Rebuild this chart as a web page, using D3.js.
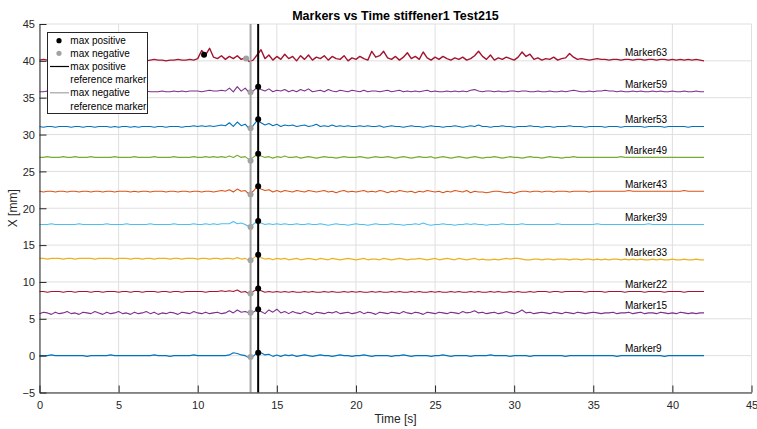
<!DOCTYPE html>
<html>
<head>
<meta charset="utf-8">
<script src="https://cdn.jsdelivr.net/npm/d3@7/dist/d3.min.js"></script>
<style>
  html, body { margin: 0; padding: 0; background: #fff; }
  svg { display: block; font-family: "Liberation Sans", Arial, Helvetica, sans-serif; }
</style>
</head>
<body>
<svg id="chart" width="757" height="429"></svg>
<script>
// ---------------- DATA ----------------
const titleText = "Markers vs Time stiffener1 Test215";
const xLabel = "Time [s]";
const yLabel = "X [mm]";
const xTicks = [0, 5, 10, 15, 20, 25, 30, 35, 40, 45];
const yTicks = [-5, 0, 5, 10, 15, 20, 25, 30, 35, 40, 45];

const markerNames = ["Marker9", "Marker15", "Marker22", "Marker33", "Marker39", "Marker43", "Marker49", "Marker53", "Marker59", "Marker63"];
const markerColors = ["#0072BD", "#7E2F8E", "#A2142F", "#EDB120", "#4DBEEE", "#D95319", "#77AC30", "#0072BD", "#7E2F8E", "#A2142F"];

const time = [
  0,0.25,0.5,0.75,1,1.25,1.5,1.75,
  2,2.25,2.5,2.75,3,3.25,3.5,3.75,
  4,4.25,4.5,4.75,5,5.25,5.5,5.75,
  6,6.25,6.5,6.75,7,7.25,7.5,7.75,
  8,8.25,8.5,8.75,9,9.25,9.5,9.75,
  10,10.25,10.5,10.75,11,11.25,11.5,11.75,
  12,12.25,12.5,12.75,13,13.25,13.5,13.75,
  14,14.25,14.5,14.75,15,15.25,15.5,15.75,
  16,16.25,16.5,16.75,17,17.25,17.5,17.75,
  18,18.25,18.5,18.75,19,19.25,19.5,19.75,
  20,20.25,20.5,20.75,21,21.25,21.5,21.75,
  22,22.25,22.5,22.75,23,23.25,23.5,23.75,
  24,24.25,24.5,24.75,25,25.25,25.5,25.75,
  26,26.25,26.5,26.75,27,27.25,27.5,27.75,
  28,28.25,28.5,28.75,29,29.25,29.5,29.75,
  30,30.25,30.5,30.75,31,31.25,31.5,31.75,
  32,32.25,32.5,32.75,33,33.25,33.5,33.75,
  34,34.25,34.5,34.75,35,35.25,35.5,35.75,
  36,36.25,36.5,36.75,37,37.25,37.5,37.75,
  38,38.25,38.5,38.75,39,39.25,39.5,39.75,
  40,40.25,40.5,40.75,41,41.25,41.5,41.75,
  42
];

const marker9 = [
  0.0,0.0,0.0,0.1,0.0,0.0,0.0,0.0,
  0.0,0.0,0.0,0.0,-0.1,0.0,0.0,0.0,
  0.0,0.0,0.1,0.0,0.0,0.0,0.0,0.0,
  0.0,0.0,0.0,0.0,0.0,0.1,0.0,0.0,
  0.0,-0.1,0.0,0.0,0.0,0.0,0.0,0.1,
  0.0,0.0,0.0,0.0,0.0,0.0,0.0,0.0,
  0.1,0.4,0.3,0.1,0.0,-0.3,-0.1,0.4,
  0.4,0.1,0.2,-0.1,0.1,-0.1,0.1,0.0,
  0.1,-0.1,0.0,0.1,0.0,-0.1,0.0,0.1,
  0.0,0.0,-0.1,0.0,0.1,0.0,0.0,-0.1,
  0.0,0.0,0.1,0.0,-0.1,0.0,0.0,0.0,
  0.0,-0.1,0.0,0.0,0.1,0.0,-0.1,0.0,
  0.0,0.0,0.0,-0.1,0.0,0.0,0.1,0.0,
  -0.1,0.0,0.0,0.0,0.0,-0.1,0.0,0.0,
  0.0,0.0,0.1,0.0,0.0,0.0,0.0,-0.1,
  0.0,0.0,0.0,0.0,-0.1,0.0,0.0,0.0,
  0.0,0.0,0.0,0.0,0.0,-0.1,0.0,0.0,
  0.0,0.0,0.0,0.0,0.0,0.0,0.0,0.0,
  0.0,0.0,-0.1,0.0,0.0,0.0,0.0,0.0,
  0.0,0.0,0.0,0.0,0.0,0.0,-0.1,0.0,
  0.0,0.0,0.0,0.0,0.0,0.0,0.0,0.0,
  0.0
];

const marker15 = [
  5.7,5.9,5.8,5.6,5.9,5.7,5.8,6.0,
  5.7,5.8,5.6,5.9,5.8,5.7,6.0,5.8,
  5.6,5.9,5.7,5.8,6.0,5.7,5.8,5.6,
  5.9,5.7,5.8,6.0,5.7,5.9,5.6,5.8,
  5.7,5.9,5.8,5.6,5.9,5.8,5.7,6.0,
  5.8,5.7,5.9,5.7,5.8,5.9,5.7,5.8,
  6.1,5.8,6.2,5.9,6.0,5.8,5.9,6.2,
  6.0,5.7,6.2,5.9,6.3,5.8,6.0,5.7,
  6.0,5.8,5.7,6.0,5.8,5.6,5.9,5.8,
  5.7,5.9,5.8,6.0,5.7,5.8,5.9,5.7,
  5.8,6.0,5.7,5.9,5.8,5.6,5.9,5.8,
  5.7,5.9,5.8,5.7,6.0,5.8,5.7,5.9,
  5.8,5.6,5.9,5.8,5.7,5.9,5.8,5.7,
  5.9,5.8,5.7,6.0,5.8,5.9,6.1,5.8,
  5.9,5.7,5.8,5.9,5.7,5.8,6.0,5.8,
  5.7,5.9,6.2,5.8,5.9,5.7,5.8,5.9,
  5.8,5.7,5.9,5.8,5.7,5.9,5.8,5.7,
  5.9,5.8,5.7,5.8,5.9,5.8,5.7,5.8,
  5.8,5.9,5.7,5.8,5.8,5.9,5.7,5.8,
  5.9,5.7,5.8,5.8,5.7,5.9,5.8,5.7,
  5.8,5.7,5.9,5.8,5.7,5.8,5.7,5.8,
  5.8
];

const marker22 = [
  8.7,8.7,8.6,8.7,8.7,8.7,8.6,8.7,
  8.7,8.6,8.7,8.7,8.7,8.6,8.7,8.7,
  8.6,8.7,8.7,8.7,8.6,8.7,8.7,8.6,
  8.7,8.7,8.6,8.7,8.7,8.7,8.6,8.7,
  8.7,8.6,8.7,8.7,8.6,8.7,8.7,8.7,
  8.7,8.7,8.6,8.7,8.7,8.7,8.8,8.7,
  8.8,8.7,8.9,8.6,8.7,8.4,8.7,9.0,
  8.8,8.6,8.7,8.6,8.7,8.6,8.7,8.6,
  8.7,8.6,8.6,8.7,8.6,8.7,8.6,8.6,
  8.7,8.6,8.7,8.6,8.6,8.7,8.6,8.7,
  8.6,8.7,8.6,8.6,8.7,8.6,8.7,8.6,
  8.6,8.7,8.6,8.7,8.6,8.6,8.7,8.6,
  8.7,8.6,8.6,8.7,8.6,8.7,8.6,8.6,
  8.7,8.6,8.7,8.6,8.6,8.7,8.6,8.7,
  8.6,8.6,8.7,8.6,8.7,8.6,8.6,8.7,
  8.6,8.7,8.6,8.6,8.7,8.6,8.7,8.7,
  8.7,8.6,8.7,8.7,8.6,8.7,8.7,8.7,
  8.7,8.7,8.6,8.7,8.7,8.7,8.7,8.6,
  8.7,8.7,8.7,8.7,8.6,8.7,8.7,8.7,
  8.7,8.6,8.7,8.7,8.7,8.7,8.6,8.7,
  8.7,8.7,8.7,8.6,8.7,8.7,8.7,8.7,
  8.7
];

const marker33 = [
  13.2,13.2,13.1,13.2,13.2,13.2,13.1,13.2,
  13.2,13.1,13.2,13.2,13.2,13.2,13.1,13.2,
  13.2,13.2,13.2,13.1,13.2,13.2,13.2,13.1,
  13.2,13.2,13.1,13.2,13.2,13.1,13.2,13.2,
  13.2,13.1,13.2,13.2,13.1,13.2,13.2,13.2,
  13.1,13.2,13.2,13.1,13.2,13.2,13.1,13.2,
  13.2,13.1,13.3,13.1,13.2,12.9,13.2,13.6,
  13.3,13.1,13.2,13.0,13.2,13.1,13.2,13.0,
  13.1,13.2,13.0,13.1,13.2,13.1,13.0,13.2,
  13.1,13.0,13.2,13.1,13.0,13.1,13.2,13.1,
  13.0,13.1,13.2,13.0,13.1,13.1,13.0,13.2,
  13.1,13.0,13.1,13.2,13.1,13.0,13.1,13.1,
  13.2,13.1,13.0,13.1,13.2,13.0,13.1,13.2,
  13.1,13.0,13.2,13.1,13.0,13.1,13.2,13.0,
  13.1,13.0,13.0,13.1,13.0,13.1,13.2,13.1,
  13.2,13.2,13.1,13.0,13.0,13.1,13.1,13.0,
  13.1,13.1,13.0,13.1,13.1,13.1,13.0,13.1,
  13.1,13.0,13.1,13.1,13.0,13.1,13.0,13.1,
  13.0,13.1,13.1,13.0,13.1,13.0,13.1,13.0,
  13.1,13.0,13.0,13.1,13.0,13.1,13.0,13.0,
  13.1,13.0,13.0,13.1,13.0,13.0,13.1,13.0,
  13.0
];

const marker39 = [
  17.8,17.8,17.8,17.9,17.8,17.8,17.8,17.8,
  17.8,17.8,17.9,17.8,17.8,17.8,17.8,17.8,
  17.8,17.9,17.8,17.8,17.8,17.8,17.9,17.8,
  17.8,17.8,17.8,17.8,17.9,17.8,17.8,17.8,
  17.8,17.8,17.9,17.8,17.8,17.8,17.8,17.9,
  17.8,17.8,17.9,17.8,17.9,17.8,17.9,17.9,
  17.9,18.2,17.9,18.0,17.8,17.5,17.8,18.2,
  18.0,17.8,17.9,17.8,17.9,17.8,17.9,17.8,
  17.8,17.9,17.8,17.8,17.9,17.8,17.8,17.9,
  17.8,17.7,17.8,17.9,17.8,17.8,17.7,17.8,
  17.9,17.8,17.8,17.7,17.8,17.9,17.8,17.8,
  17.8,17.9,17.8,17.8,17.7,17.8,17.8,17.9,
  17.8,18.0,17.8,17.7,17.8,17.8,17.9,17.8,
  17.8,17.7,17.8,17.8,17.9,17.8,17.9,17.8,
  17.8,17.7,17.8,17.8,17.8,17.9,17.8,17.8,
  17.8,17.8,17.9,17.8,17.8,17.8,17.8,17.8,
  17.8,17.8,17.8,17.9,17.8,17.8,17.8,17.8,
  17.8,17.8,17.8,17.8,17.8,17.9,17.8,17.8,
  17.8,17.8,17.8,17.8,17.8,17.8,17.8,17.8,
  17.8,17.8,17.9,17.8,17.8,17.8,17.8,17.8,
  17.8,17.8,17.8,17.8,17.8,17.8,17.8,17.8,
  17.8
];

const marker43 = [
  22.3,22.2,22.3,22.3,22.2,22.3,22.3,22.2,
  22.3,22.3,22.2,22.3,22.3,22.2,22.3,22.3,
  22.2,22.3,22.3,22.2,22.3,22.3,22.3,22.2,
  22.3,22.2,22.3,22.3,22.2,22.3,22.3,22.3,
  22.2,22.3,22.3,22.2,22.3,22.3,22.2,22.3,
  22.3,22.2,22.3,22.3,22.2,22.3,22.4,22.3,
  22.5,22.2,22.6,22.3,22.4,21.9,22.3,22.9,
  22.6,22.4,22.5,22.2,22.4,22.2,22.4,22.3,
  22.2,22.4,22.3,22.2,22.4,22.3,22.2,22.3,
  22.4,22.2,22.3,22.1,22.3,22.4,22.2,22.3,
  22.2,22.3,22.4,22.2,22.3,22.2,22.4,22.3,
  22.1,22.3,22.2,22.4,22.3,22.2,22.3,22.1,
  22.3,22.2,22.4,22.3,22.2,22.3,22.1,22.3,
  22.2,22.4,22.3,22.2,22.4,22.1,22.3,22.2,
  22.2,22.1,22.2,22.3,22.3,22.2,22.1,22.2,
  22.0,22.2,22.3,22.3,22.2,22.3,22.3,22.2,
  22.3,22.3,22.2,22.3,22.3,22.3,22.2,22.3,
  22.3,22.3,22.3,22.2,22.3,22.3,22.3,22.3,
  22.3,22.3,22.3,22.3,22.3,22.4,22.3,22.3,
  22.3,22.3,22.3,22.3,22.3,22.3,22.3,22.3,
  22.3,22.3,22.3,22.4,22.3,22.3,22.3,22.3,
  22.3
];

const marker49 = [
  26.9,26.9,27.0,26.9,26.9,26.9,27.0,26.9,
  26.9,27.0,26.9,26.9,26.9,27.0,26.9,26.9,
  26.9,26.9,26.9,27.0,26.9,26.9,26.9,26.9,
  27.0,26.9,26.9,26.9,26.9,27.0,26.9,26.9,
  26.9,26.9,27.0,26.9,26.9,26.9,26.9,27.0,
  26.9,26.9,27.0,26.9,27.0,26.9,27.0,26.9,
  27.1,26.9,27.2,26.9,27.0,26.6,26.9,27.3,
  27.1,26.9,27.0,26.8,27.0,26.9,27.1,26.9,
  26.9,27.0,26.8,26.9,27.0,26.9,26.8,26.9,
  27.0,26.9,26.9,26.8,26.9,27.0,26.9,26.9,
  26.9,27.0,26.9,26.8,26.9,27.0,26.9,26.9,
  27.0,26.9,26.8,26.9,27.0,26.9,26.8,26.9,
  27.0,26.9,26.9,27.0,26.8,26.9,27.0,26.9,
  26.8,26.9,27.0,26.9,26.8,26.9,27.0,26.9,
  26.8,26.9,26.9,27.0,26.9,26.8,26.9,27.0,
  26.9,26.9,26.8,26.9,27.0,26.9,26.9,26.8,
  26.9,27.0,26.9,26.9,26.8,26.9,26.9,27.0,
  26.9,26.9,26.9,26.9,26.9,26.9,26.9,26.9,
  26.9,26.9,26.9,27.0,26.9,26.9,26.9,26.9,
  26.9,26.9,26.9,26.9,26.9,26.9,26.9,26.9,
  26.9,26.9,26.9,26.9,26.9,26.9,26.9,26.9,
  26.9
];

const marker53 = [
  31.1,31.0,31.1,31.1,31.0,31.1,31.1,31.1,
  31.0,31.1,31.1,31.0,31.1,31.1,31.0,31.1,
  31.1,31.1,31.0,31.1,31.0,31.1,31.1,31.0,
  31.1,31.0,31.1,31.1,31.1,31.0,31.1,31.1,
  31.0,31.1,31.1,31.1,31.0,31.1,31.1,31.2,
  31.1,31.2,31.1,31.2,31.1,31.2,31.3,31.2,
  31.6,31.1,31.7,31.2,31.4,30.8,31.2,31.9,
  31.6,31.3,31.5,31.2,31.4,31.1,31.3,31.2,
  31.3,31.1,31.2,31.3,31.1,31.2,31.4,31.1,
  31.2,31.1,31.3,31.1,31.2,31.1,31.2,31.1,
  31.1,31.2,31.1,31.2,31.1,31.1,31.2,31.0,
  31.1,31.2,31.1,31.1,31.0,31.1,31.2,31.1,
  31.1,31.0,31.1,31.2,31.1,31.1,31.0,31.1,
  31.1,31.2,31.1,31.0,31.1,31.2,31.1,31.3,
  31.1,31.1,31.0,31.1,31.1,31.2,31.1,31.1,
  31.0,31.1,31.1,31.1,31.2,31.1,31.1,31.0,
  31.1,31.1,31.0,31.1,31.1,31.1,31.2,31.1,
  31.1,31.1,31.0,31.1,31.1,31.1,31.1,31.0,
  31.1,31.1,31.1,31.0,31.1,31.1,31.1,31.1,
  31.1,31.0,31.1,31.1,31.1,31.1,31.0,31.1,
  31.1,31.1,31.1,31.1,31.0,31.1,31.1,31.1,
  31.1
];

const marker59 = [
  35.8,35.8,35.9,35.8,35.8,35.8,35.9,35.8,
  35.8,35.8,35.8,35.9,35.8,35.8,35.8,35.8,
  35.8,35.9,35.8,35.8,35.8,35.8,35.9,35.8,
  35.8,35.8,35.8,35.9,35.8,35.8,35.8,35.9,
  35.8,35.8,35.9,35.8,35.9,35.8,35.9,35.9,
  35.9,35.8,35.9,36.0,35.9,35.9,36.0,35.9,
  36.3,35.8,36.5,35.9,36.3,35.7,35.9,36.4,
  36.1,35.9,36.2,35.8,36.0,35.9,36.1,35.8,
  36.0,35.8,36.1,35.9,36.2,35.8,35.9,36.0,
  35.8,36.1,35.9,35.8,36.0,35.9,35.8,36.0,
  35.9,35.8,36.0,35.8,35.9,35.9,35.8,35.9,
  36.0,35.8,35.9,36.0,35.8,35.9,35.8,35.9,
  35.8,35.9,36.0,35.8,35.9,35.8,35.8,35.9,
  35.8,35.9,35.8,35.9,35.8,36.0,36.1,35.9,
  35.8,35.9,35.9,35.8,35.9,35.8,35.8,35.9,
  35.9,35.8,35.9,35.9,35.8,35.8,35.9,35.8,
  35.8,35.9,35.8,35.8,35.9,35.8,35.9,36.0,
  35.9,35.8,35.8,35.9,35.8,35.9,35.9,36.0,
  35.9,35.9,35.8,35.9,35.8,35.8,35.9,35.8,
  35.9,35.8,35.8,35.9,35.8,35.9,35.8,35.8,
  35.9,35.8,35.8,35.9,35.8,35.8,35.9,35.8,
  35.8
];

const marker63 = [
  40.1,40.2,40.1,40.2,40.2,40.1,40.2,40.1,
  40.1,40.2,40.2,40.1,40.2,40.2,40.1,40.1,
  40.2,40.1,40.0,40.1,40.1,40.0,40.1,40.1,
  40.0,40.1,40.1,40.0,40.1,40.2,40.1,40.1,
  40.0,40.1,40.1,40.2,40.1,40.1,40.2,40.1,
  40.3,41.4,40.8,41.7,40.5,40.3,40.7,40.2,
  40.6,40.3,40.7,40.2,40.4,39.9,40.1,40.8,
  41.5,40.3,40.8,40.1,40.6,40.2,40.9,40.3,
  40.6,40.0,40.7,40.2,40.8,40.1,40.5,40.3,
  40.7,40.1,40.6,40.3,40.2,40.7,40.0,40.4,
  40.2,40.6,40.3,40.1,41.3,40.5,40.7,41.3,
  40.4,40.2,40.6,40.1,40.5,41.1,40.3,40.6,
  40.2,41.2,40.4,40.1,40.5,40.2,40.6,40.3,
  40.1,40.4,40.2,40.5,40.1,40.3,40.7,41.3,
  40.6,40.2,40.8,40.1,40.4,40.2,40.5,40.3,
  40.1,40.5,41.2,40.6,40.9,40.2,40.4,40.1,
  40.3,40.2,40.5,40.1,40.3,40.4,41.0,40.5,
  40.2,40.3,40.2,40.1,40.2,40.3,40.2,40.2,
  40.1,40.2,40.2,40.1,40.2,40.2,40.1,40.2,
  40.2,40.1,40.2,40.2,40.1,40.2,40.2,40.1,
  40.2,40.1,40.2,40.1,40.2,40.1,40.2,40.1,
  40.0
];

const markerValues = [marker9, marker15, marker22, marker33, marker39, marker43, marker49, marker53, marker59, marker63];

// max positive / max negative points per marker
const posTime = [13.82, 13.82, 13.82, 13.82, 13.82, 13.82, 13.82, 13.82, 13.82, 10.4];
const posValue = [0.38, 6.31, 9.12, 13.68, 18.26, 22.97, 27.39, 32.06, 36.49, 40.83];
const negTime = [13.34, 13.34, 13.34, 13.34, 13.34, 13.34, 13.34, 13.34, 13.34, 13.06];
const negValue = [-0.17, 5.81, 8.44, 12.96, 17.44, 21.88, 26.44, 30.84, 35.73, 40.32];

// reference marker times
const refPositiveTime = 13.82;
const refNegativeTime = 13.34;

// label anchor time
const labelTime = 37;

const legendLabels = ["max positive", "max negative", "max positive", "reference marker", "max negative", "reference marker"];

// ---------------- DRAW ----------------
const svg = d3.select("#chart");
const font = '"Liberation Sans", Arial, Helvetica, sans-serif';
const axisColor = "#262626";

const x = d3.scaleLinear().domain([0, 45]).range([39.5, 751.5]);
const y = d3.scaleLinear().domain([-5, 45]).range([392.5, 24]);

// grid
const grid = svg.append("g");
grid.selectAll(".gx").data(xTicks).enter().append("line")
  .attr("x1", d => x(d)).attr("x2", d => x(d))
  .attr("y1", y(-5)).attr("y2", y(45))
  .attr("stroke", "#dfdfdf").attr("stroke-width", 1);
grid.selectAll(".gy").data(yTicks).enter().append("line")
  .attr("x1", x(0)).attr("x2", x(45))
  .attr("y1", d => y(d)).attr("y2", d => y(d))
  .attr("stroke", "#dfdfdf").attr("stroke-width", 1);

// series
const line = d3.line().x(d => x(d[0])).y(d => y(d[1]));
const seriesG = svg.append("g");
markerValues.forEach((vals, i) => {
  const pts = time.map((t, j) => [t, vals[j]]);
  seriesG.append("path")
    .attr("d", line(pts))
    .attr("fill", "none")
    .attr("stroke", markerColors[i])
    .attr("stroke-width", i === 9 ? 1.4 : 1.1)
    .attr("stroke-linejoin", "round");
});

// marker labels
markerValues.forEach((vals, i) => {
  const tail = vals.slice(vals.length - 24);
  const lv = d3.mean(tail);
  svg.append("text")
    .attr("x", x(labelTime))
    .attr("y", y(lv) - 3.5)
    .attr("font-family", font)
    .attr("font-size", 10)
    .attr("fill", "#000")
    .text(markerNames[i]);
});

// reference lines
svg.append("line")
  .attr("x1", x(refNegativeTime)).attr("x2", x(refNegativeTime))
  .attr("y1", y(-5)).attr("y2", y(45))
  .attr("stroke", "#a3a3a3").attr("stroke-width", 2);
svg.append("line")
  .attr("x1", x(refPositiveTime)).attr("x2", x(refPositiveTime))
  .attr("y1", y(-5)).attr("y2", y(45))
  .attr("stroke", "#000").attr("stroke-width", 2);

// dots
svg.append("g").selectAll("circle.neg").data(negValue).enter().append("circle")
  .attr("cx", (d, i) => x(negTime[i])).attr("cy", d => y(d))
  .attr("r", 3).attr("fill", "#a3a3a3");
svg.append("g").selectAll("circle.pos").data(posValue).enter().append("circle")
  .attr("cx", (d, i) => x(posTime[i])).attr("cy", d => y(d))
  .attr("r", 3).attr("fill", "#000");

// axes
const xAxis = d3.axisBottom(x).tickValues(xTicks).tickSize(-7).tickSizeOuter(0).tickFormat(d3.format("d"));
const gx = svg.append("g").attr("transform", `translate(0,${y(-5)})`).call(xAxis);
gx.select(".domain").attr("stroke", axisColor).attr("stroke-width", 1);
gx.selectAll(".tick line").attr("stroke", axisColor);
gx.selectAll(".tick text").attr("y", 16.5).attr("dy", null)
  .attr("font-family", font).attr("font-size", 11).attr("fill", axisColor);

const yAxis = d3.axisLeft(y).tickValues(yTicks).tickSize(-7).tickSizeOuter(0).tickFormat(d3.format("d"));
const gy = svg.append("g").attr("transform", `translate(${x(0)},0)`).call(yAxis);
gy.select(".domain").attr("stroke", axisColor).attr("stroke-width", 1);
gy.selectAll(".tick line").attr("stroke", axisColor);
gy.selectAll(".tick text").attr("x", -4.5).attr("dy", "0.35em")
  .attr("font-family", font).attr("font-size", 11).attr("fill", axisColor);

// axis labels
svg.append("text")
  .attr("x", (x(0) + x(45)) / 2).attr("y", 422.5)
  .attr("text-anchor", "middle")
  .attr("font-family", font).attr("font-size", 12).attr("fill", axisColor)
  .text(xLabel);
svg.append("text")
  .attr("transform", `translate(17,${(y(-5) + y(45)) / 2}) rotate(-90)`)
  .attr("text-anchor", "middle")
  .attr("font-family", font).attr("font-size", 12).attr("fill", axisColor)
  .text(yLabel);

// title
svg.append("text")
  .attr("x", (x(0) + x(45)) / 2).attr("y", 19.5)
  .attr("text-anchor", "middle")
  .attr("font-family", font).attr("font-size", 12.5).attr("font-weight", "bold")
  .attr("fill", "#000")
  .text(titleText);

// legend
const lg = svg.append("g");
lg.append("rect")
  .attr("x", 47.5).attr("y", 32.5).attr("width", 100).attr("height", 81)
  .attr("fill", "#fff").attr("stroke", axisColor).attr("stroke-width", 1);
const rowY = [40.7, 53.3, 66.5, 79.8, 92.8, 106];
legendLabels.forEach((lab, i) => {
  lg.append("text")
    .attr("x", 70.3).attr("y", rowY[i] + 3.6)
    .attr("font-family", font).attr("font-size", 10).attr("fill", "#000")
    .text(lab);
});
lg.append("circle").attr("cx", 59).attr("cy", rowY[0]).attr("r", 2.6).attr("fill", "#000");
lg.append("circle").attr("cx", 59).attr("cy", rowY[1]).attr("r", 2.6).attr("fill", "#a3a3a3");
lg.append("line").attr("x1", 50).attr("x2", 69).attr("y1", rowY[2]).attr("y2", rowY[2])
  .attr("stroke", "#000").attr("stroke-width", 1.2);
lg.append("line").attr("x1", 50).attr("x2", 69).attr("y1", rowY[4]).attr("y2", rowY[4])
  .attr("stroke", "#a3a3a3").attr("stroke-width", 1.2);
</script>
</body>
</html>
